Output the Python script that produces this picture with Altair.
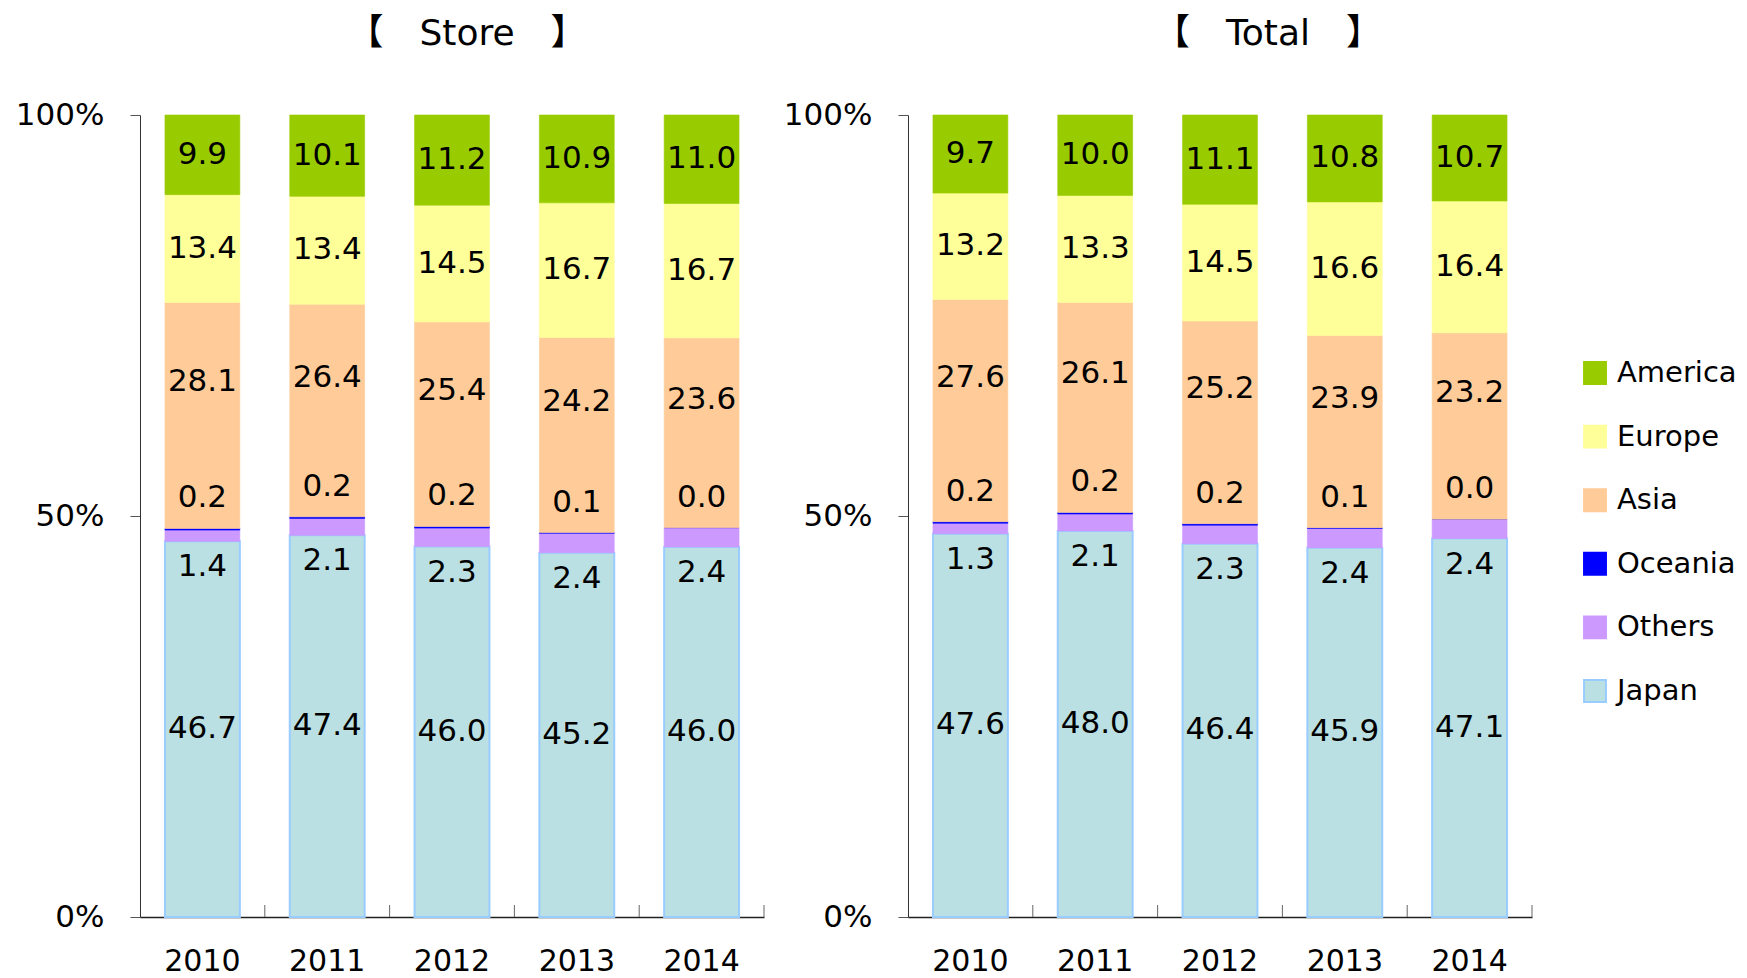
import altair as alt
import pandas as pd

years = ["2010", "2011", "2012", "2013", "2014"]
stack_regions = ["Japan", "Others", "Oceania", "Asia", "Europe", "America"]
legend_order = ["America", "Europe", "Asia", "Oceania", "Others", "Japan"]
fill_colors = ["#99CC00", "#FFFF99", "#FFCC99", "#0000FF", "#CC99FF", "#BBE0E3"]
stroke_colors = ["#99CC00", "#FFFF99", "#FFCC99", "#0000FF", "#CC99FF", "#99CCFF"]

store_japan = [46.7, 47.4, 46.0, 45.2, 46.0]
store_others = [1.4, 2.1, 2.3, 2.4, 2.4]
store_oceania = [0.2, 0.2, 0.2, 0.1, 0.0]
store_asia = [28.1, 26.4, 25.4, 24.2, 23.6]
store_europe = [13.4, 13.4, 14.5, 16.7, 16.7]
store_america = [9.9, 10.1, 11.2, 10.9, 11.0]

total_japan = [47.6, 48.0, 46.4, 45.9, 47.1]
total_others = [1.3, 2.1, 2.3, 2.4, 2.4]
total_oceania = [0.2, 0.2, 0.2, 0.1, 0.0]
total_asia = [27.6, 26.1, 25.2, 23.9, 23.2]
total_europe = [13.2, 13.3, 14.5, 16.6, 16.4]
total_america = [9.7, 10.0, 11.1, 10.8, 10.7]

store = dict(Japan=store_japan, Others=store_others, Oceania=store_oceania,
             Asia=store_asia, Europe=store_europe, America=store_america)
total = dict(Japan=total_japan, Others=total_others, Oceania=total_oceania,
             Asia=total_asia, Europe=total_europe, America=total_america)

FONT = "DejaVu Sans"
W, H = 624, 802
TITLE_OFFSET = 46

fill_scale = alt.Scale(domain=legend_order, range=fill_colors)
stroke_scale = alt.Scale(domain=legend_order, range=stroke_colors)


def title(text, dx):
    return alt.TitleParams(text, fontSize=36, font="DejaVu Sans, Noto Sans CJK JP",
                           fontWeight="normal", color="black", dx=dx,
                           offset=TITLE_OFFSET)


def table(vals):
    rows = []
    for i, y in enumerate(years):
        s = sum(vals[r][i] for r in stack_regions)
        cum = 0.0
        for k, r in enumerate(stack_regions):
            v = vals[r][i]
            lo = cum / s
            cum += v
            hi = cum / s
            rows.append(dict(year=y, region=r, value=v, lo=lo, hi=hi,
                             mid=(lo + hi) / 2, order=k))
    return pd.DataFrame(rows)


def panel(vals, name, title_dx):
    df = table(vals)
    xenc = alt.X("year:N", sort=years, title=None,
                 scale=alt.Scale(paddingInner=0.4, paddingOuter=0.2),
                 axis=alt.Axis(ticks=False, labelFontSize=30, labelFont=FONT,
                               labelColor="black", labelPadding=29, labelAngle=0,
                               domainColor="#222222", domainWidth=1.5))
    yscale = alt.Scale(domain=[0, 1])
    base = alt.Chart(df)
    bars = base.mark_bar().encode(
        x=xenc,
        y=alt.Y("lo:Q", scale=yscale, title=None,
                axis=alt.Axis(values=[0, 0.5, 1], format=".0%", grid=False,
                              tickSize=10, tickColor="#555555", domainColor="#333333",
                              labelFontSize=31, labelFont=FONT, labelColor="black",
                              labelPadding=26, minExtent=127, maxExtent=127)),
        y2="hi:Q",
        fill=alt.Fill("region:N", scale=fill_scale, legend=None),
        stroke=alt.Stroke("region:N", scale=stroke_scale, legend=None),
        strokeWidth=alt.condition(alt.datum.region == "Japan", alt.value(2), alt.value(0.6)),
    )
    tcommon = dict(fontSize=31, font=FONT, color="black")
    xt = alt.X("year:N", sort=years)
    lab_mid = base.transform_filter(
        alt.FieldOneOfPredicate(field="region", oneOf=["Japan", "Europe", "America"])
    ).mark_text(**tcommon).encode(
        x=xt, y=alt.Y("mid:Q", scale=yscale),
        text=alt.Text("value:Q", format=".1f"))
    lab_asia = base.transform_filter(alt.datum.region == "Asia").mark_text(dy=-33, **tcommon).encode(
        x=xt, y=alt.Y("mid:Q", scale=yscale),
        text=alt.Text("value:Q", format=".1f"))
    lab_oth = base.transform_filter(alt.datum.region == "Others").mark_text(dy=26, **tcommon).encode(
        x=xt, y=alt.Y("lo:Q", scale=yscale),
        text=alt.Text("value:Q", format=".1f"))
    lab_oce = base.transform_filter(alt.datum.region == "Oceania").mark_text(dy=-30, **tcommon).encode(
        x=xt, y=alt.Y("hi:Q", scale=yscale),
        text=alt.Text("value:Q", format=".1f"))
    inner = alt.layer(bars, lab_mid, lab_asia, lab_oth, lab_oce)
    # small upward tick marks at the category boundaries of the x axis
    tick_df = pd.DataFrame({"edge": [1, 2, 3, 4, 5]})
    ticks = alt.Chart(tick_df).mark_rule(color="#666666", strokeWidth=1).encode(
        x=alt.X("edge:Q", scale=alt.Scale(domain=[0, 5]), axis=None),
        y=alt.value(H), y2=alt.value(H - 12))
    return alt.layer(inner, ticks).resolve_scale(x="independent").properties(
        width=W, height=H, title=title(f"【　{name}　】", title_dx))


left = panel(store, "Store", 15)
right = panel(total, "Total", 48)

# legend drawn as its own small panel
leg_df = pd.DataFrame({"region": legend_order})
leg_y = alt.Y("region:N", sort=legend_order,
              scale=alt.Scale(type="point", domain=legend_order, range=[258, 576], padding=0),
              axis=None)
leg_sym = alt.Chart(leg_df).mark_square(size=480, strokeWidth=2, opacity=1).encode(
    x=alt.value(46), y=leg_y,
    fill=alt.Fill("region:N", scale=fill_scale, legend=None),
    stroke=alt.Stroke("region:N", scale=stroke_scale, legend=None))
leg_txt = alt.Chart(leg_df).mark_text(align="left", baseline="middle", fontSize=29,
                                      font=FONT, color="black").encode(
    x=alt.value(68), y=leg_y, text="region:N")
legend_panel = alt.layer(leg_sym, leg_txt).properties(width=170, height=H, title=title(" ", 0))

chart = alt.hconcat(left, right, legend_panel, spacing=16).resolve_scale(
    fill="shared", stroke="shared").properties(
    padding={"left": 13, "top": 16, "right": 0, "bottom": 0},
    background="white"
).configure_view(stroke=None)

chart.save("out.html", embed_options={"renderer": "svg", "actions": False})
